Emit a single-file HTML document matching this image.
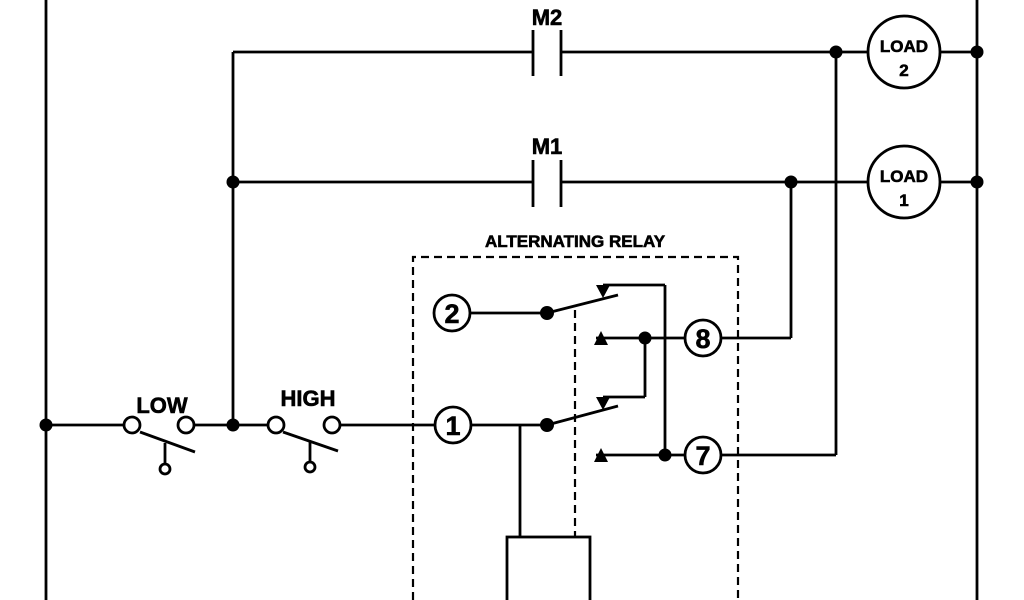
<!DOCTYPE html>
<html><head><style>html,body{margin:0;padding:0;background:#fff;}svg{display:block}text{font-family:"Liberation Sans",Arial,sans-serif;font-weight:bold;stroke:#000;stroke-width:0.6px;}</style></head>
<body>
<svg width="1024" height="600" viewBox="0 0 1024 600" xmlns="http://www.w3.org/2000/svg">
<g stroke="#000" stroke-width="2.8" fill="none">
<line x1="46" y1="0" x2="46" y2="600"/>
<line x1="977" y1="0" x2="977" y2="600"/>
<line x1="233" y1="52" x2="233" y2="425"/>
<line x1="233" y1="52" x2="533" y2="52"/>
<line x1="561" y1="52" x2="868" y2="52"/>
<line x1="940" y1="52" x2="977" y2="52"/>
<line x1="533" y1="30" x2="533" y2="76"/><line x1="561" y1="30" x2="561" y2="76"/>
<line x1="233" y1="182" x2="533" y2="182"/>
<line x1="561" y1="182" x2="868" y2="182"/>
<line x1="940" y1="182" x2="977" y2="182"/>
<line x1="533" y1="160" x2="533" y2="207"/><line x1="561" y1="160" x2="561" y2="207"/>
<circle cx="904" cy="52" r="36"/><circle cx="904" cy="182" r="36"/>
<line x1="836" y1="52" x2="836" y2="455"/>
<line x1="791" y1="182" x2="791" y2="338"/>
<line x1="46" y1="425" x2="124" y2="425"/>
<circle cx="132" cy="425" r="8"/><circle cx="186" cy="425" r="8"/>
<line x1="140" y1="432" x2="195" y2="452"/><line x1="165" y1="443" x2="165" y2="464"/><circle cx="165" cy="469" r="5"/>
<line x1="194" y1="425" x2="268" y2="425"/>
<circle cx="276" cy="425" r="8"/><circle cx="332" cy="425" r="8"/>
<line x1="283" y1="432" x2="338" y2="451"/><line x1="310" y1="442" x2="310" y2="462"/><circle cx="310" cy="467" r="5"/>
<line x1="340" y1="425" x2="435" y2="425"/>
<circle cx="453" cy="425" r="18"/><circle cx="452" cy="313" r="18"/>
<circle cx="703" cy="338" r="18"/><circle cx="703" cy="455" r="18"/>
<line x1="471" y1="425" x2="547" y2="425"/>
<line x1="547" y1="425" x2="618" y2="406"/>
<line x1="470" y1="313" x2="547" y2="313"/>
<line x1="547" y1="313" x2="618" y2="295"/>
<line x1="603" y1="285" x2="665" y2="285"/><line x1="665" y1="285" x2="665" y2="455"/>
<line x1="596" y1="338" x2="685" y2="338"/><line x1="721" y1="338" x2="791" y2="338"/>
<line x1="645" y1="338" x2="645" y2="397"/><line x1="603" y1="397" x2="645" y2="397"/>
<line x1="596" y1="455" x2="685" y2="455"/><line x1="721" y1="455" x2="836" y2="455"/>
<line x1="520" y1="425" x2="520" y2="537"/>
<rect x="507" y="537" width="83" height="70"/>
<g stroke-dasharray="8,5" stroke-width="2.2">
<path d="M413 600 V257 H738 V600"/>
<line x1="575" y1="310" x2="575" y2="537"/>
</g>
</g>
<g fill="#000">
<circle cx="46" cy="425" r="6.5"/><circle cx="233" cy="425" r="6.5"/><circle cx="233" cy="182" r="6.5"/>
<circle cx="836" cy="52" r="6.5"/><circle cx="977" cy="52" r="6.5"/><circle cx="977" cy="182" r="6.5"/><circle cx="791" cy="182" r="6.5"/>
<circle cx="547" cy="425" r="7"/><circle cx="547" cy="313" r="7"/><circle cx="645" cy="338" r="6.5"/><circle cx="665" cy="455" r="6.5"/>
<polygon points="596,285 610,285 603,298"/><polygon points="596,397 610,397 603,410"/>
<polygon points="594,345 608,345 601,331"/><polygon points="594,462 608,462 601,448"/>
<g font-size="22" text-anchor="middle">
<text x="547" y="25">M2</text><text x="547" y="154">M1</text>
<text x="162" y="413">LOW</text><text x="308" y="406">HIGH</text>
</g>
<text x="575" y="247" font-size="17" text-anchor="middle">ALTERNATING RELAY</text>
<g font-size="17" text-anchor="middle">
<text x="904" y="52">LOAD</text><text x="904" y="76">2</text>
<text x="904" y="182">LOAD</text><text x="904" y="206">1</text>
</g>
<g font-size="27" text-anchor="middle">
<text x="453" y="435">1</text><text x="452" y="323">2</text><text x="703" y="348">8</text><text x="703" y="465">7</text>
</g>
</g>
</svg>
</body></html>
